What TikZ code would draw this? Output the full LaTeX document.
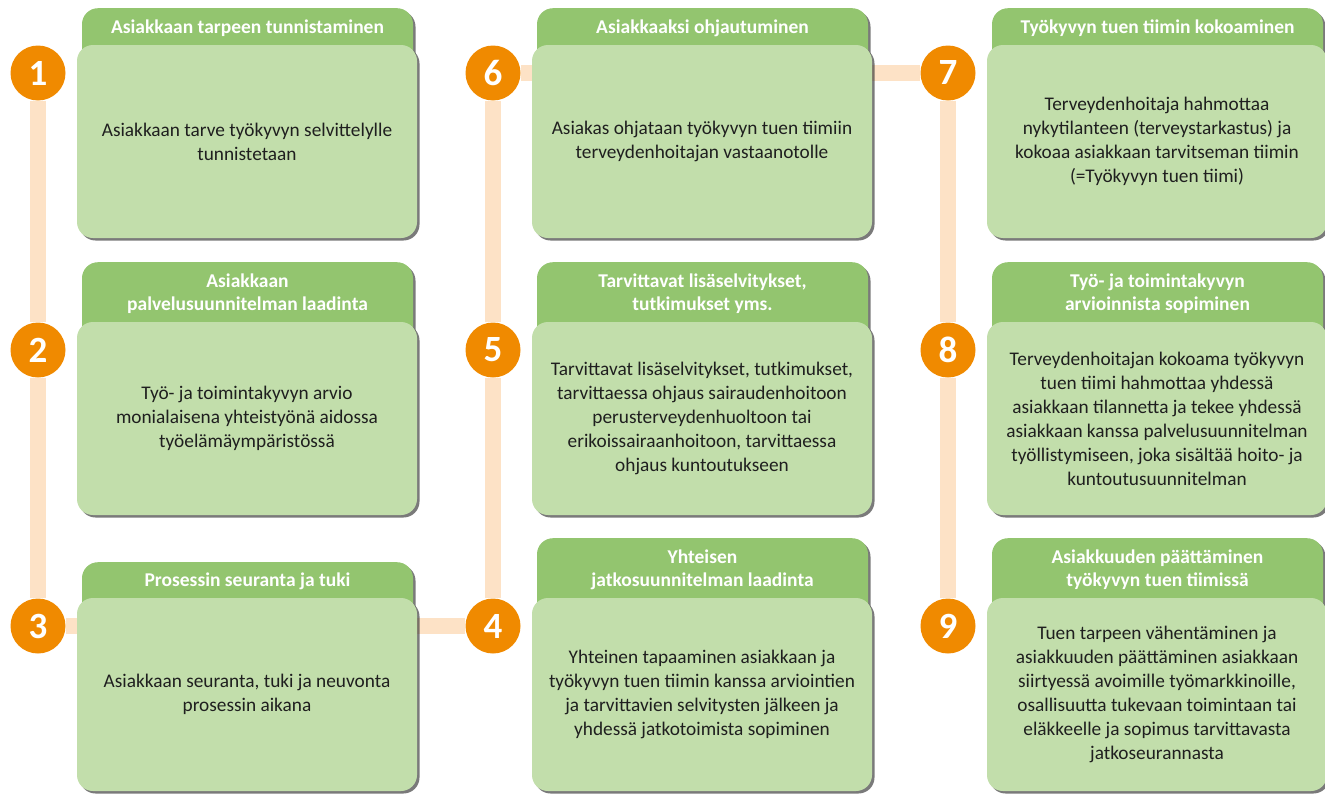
\documentclass[tikz,border=0pt]{standalone}
\usepackage{fontspec}
\setmainfont{Carlito}
\usetikzlibrary{shadows,backgrounds}
\definecolor{oranssi}{HTML}{F08A00}
\definecolor{persikka}{HTML}{FDE2C6}
\definecolor{tummavihrea}{HTML}{93C56F}
\definecolor{vaaleavihrea}{HTML}{C2DEAB}

\begin{document}
\begin{tikzpicture}[x=1pt,y=-1pt,
    varjo/.style={drop shadow={shadow xshift=2.5pt,shadow yshift=-2.5pt,fill=black!80,opacity=.65}},
    otsikko/.style={fill=tummavihrea,rounded corners=16pt,minimum width=331pt,anchor=north,inner sep=0pt,varjo},
    otsikkoteksti/.style={text=white,font=\bfseries\fontsize{19.5}{23}\selectfont,align=center},
    laatikko/.style={fill=vaaleavihrea,rounded corners=16pt,minimum width=340pt,minimum height=193pt,varjo,
        align=center,text=black!88,font=\fontsize{19.3}{24}\selectfont},
    pallo/.style={circle,fill=oranssi,minimum size=55pt,inner sep=0pt,text=white,font=\bfseries\fontsize{37}{37}\selectfont},
    polku/.style={persikka,line width=16pt}]
    \useasboundingbox (0,0) rectangle (1325,795);
    \foreach \n/\px/\ly/\oy/\ots/\txt in {
        1/38/45/8/{Asiakkaan tarpeen tunnistaminen}/{Asiakkaan tarve työkyvyn selvittelylle\\tunnistetaan},
        2/38/322/262/{Asiakkaan\\palvelusuunnitelman laadinta}/{Työ- ja toimintakyvyn arvio\\monialaisena yhteistyönä aidossa\\työelämäympäristössä},
        3/38/598/562/{Prosessin seuranta ja tuki}/{Asiakkaan seuranta, tuki ja neuvonta\\prosessin aikana},
        4/493/598/538/{Yhteisen\\jatkosuunnitelman laadinta}/{Yhteinen tapaaminen asiakkaan ja\\työkyvyn tuen tiimin kanssa arviointien\\ja tarvittavien selvitysten jälkeen ja\\yhdessä jatkotoimista sopiminen},
        5/493/322/262/{Tarvittavat lisäselvitykset,\\tutkimukset yms.}/{Tarvittavat lisäselvitykset, tutkimukset,\\tarvittaessa ohjaus sairaudenhoitoon\\perusterveydenhuoltoon tai\\erikoissairaanhoitoon, tarvittaessa\\ohjaus kuntoutukseen},
        6/493/45/8/{Asiakkaaksi ohjautuminen}/{Asiakas ohjataan työkyvyn tuen tiimiin\\terveydenhoitajan vastaanotolle},
        7/948/45/8/{Työkyvyn tuen tiimin kokoaminen}/{Terveydenhoitaja hahmottaa\\nykytilanteen (terveystarkastus) ja\\kokoaa asiakkaan tarvitseman tiimin\\(=Työkyvyn tuen tiimi)},
        8/948/322/262/{Työ- ja toimintakyvyn\\arvioinnista sopiminen}/{Terveydenhoitajan kokoama työkyvyn\\tuen tiimi hahmottaa yhdessä\\asiakkaan tilannetta ja tekee yhdessä\\asiakkaan kanssa palvelusuunnitelman\\työllistymiseen, joka sisältää hoito- ja\\kuntoutusuunnitelman},
        9/948/598/538/{Asiakkuuden päättäminen\\työkyvyn tuen tiimissä}/{Tuen tarpeen vähentäminen ja\\asiakkuuden päättäminen asiakkaan\\siirtyessä avoimille työmarkkinoille,\\osallisuutta tukevaan toimintaan tai\\eläkkeelle ja sopimus tarvittavasta\\jatkoseurannasta}} {
        \node[otsikko,minimum height={\ly-\oy+30}] (otsikko\n) at ({\px+209.5},\oy) {};
        \node[otsikkoteksti] (ot\n) at ({\px+209.5},{(\oy+\ly)/2+1.5}) {\ots};
        \node[laatikko] (laatikko\n) at ({\px+209},{\ly+96.5}) {\txt};
        \node[pallo] (pallo\n) at (\px,{\ly+28}) {\n};
    }
    % kulkureitti pallojen takana
    \begin{pgfonlayer}{background}
        \draw[polku] (pallo1) -- (pallo2) -- (pallo3) -- (pallo4) -- (pallo5) -- (pallo6) -- (pallo7) -- (pallo8) -- (pallo9);
    \end{pgfonlayer}
\end{tikzpicture}
\end{document}
